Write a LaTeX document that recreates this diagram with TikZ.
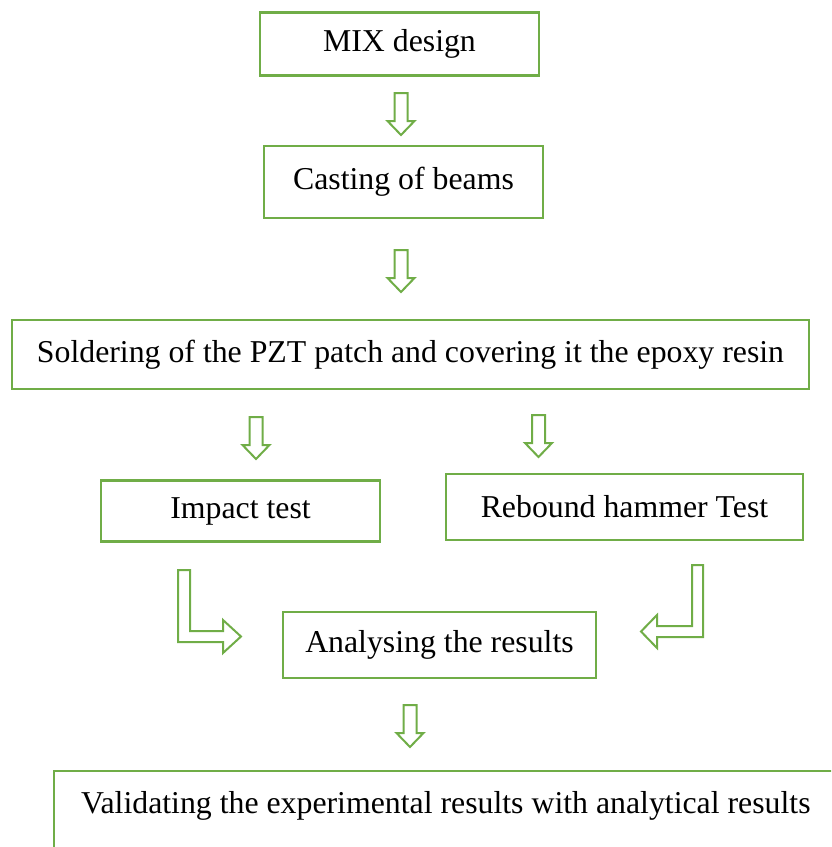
\documentclass[tikz,border=0pt]{standalone}
\usepackage{fontspec}
\setmainfont{Liberation Serif}
\definecolor{boxgreen}{RGB}{112,173,71}

\tikzstyle{stepbox}=[rectangle, draw=boxgreen, line width=2.2pt, inner sep=0pt, font=\fontsize{31.8}{38}\selectfont]
\tikzstyle{hollow}=[draw=boxgreen, line width=2pt, fill=white, line join=miter]

% outline arrow pointing down, given centre x and top y
\newcommand{\hollowdown}[2]{%
  \draw[hollow] (#1-6.5,#2) -- (#1+6.5,#2) -- (#1+6.5,#2+28) -- (#1+13.5,#2+28)
    -- (#1,#2+42) -- (#1-13.5,#2+28) -- (#1-6.5,#2+28) -- cycle;}

\begin{document}
\begin{tikzpicture}[x=1pt, y=-1pt]
\clip (0,0) rectangle (831,847);
\node[stepbox, minimum width=279pt, minimum height=63pt] (mix)     at (399.5,44) {MIX design};
\node[stepbox, minimum width=279pt, minimum height=72pt] (cast)    at (403.5,182)  {Casting of beams};
\node[stepbox, minimum width=797pt, minimum height=69pt] (solder)  at (410.5,354.5) {Soldering of the PZT patch and covering it the epoxy resin};
\node[stepbox, minimum width=279pt, minimum height=61pt] (impact)  at (240.5,511) {Impact test};
\node[stepbox, minimum width=357pt, minimum height=66pt] (rebound) at (624.5,507)  {Rebound hammer Test};
\node[stepbox, minimum width=313pt, minimum height=66pt] (analyse) at (439.5,645)  {Analysing the results};
\node[stepbox, anchor=north west, inner xsep=27pt, inner ysep=10pt,
      text height=32pt, text depth=150pt] (valid) at (53,770) {Validating the experimental results with analytical results};
% straight arrows
\hollowdown{401}{93}
\hollowdown{401}{250}
\hollowdown{256}{417}
\hollowdown{538.5}{415}
\hollowdown{410}{705}
% bent arrows into the analysis box
\draw[hollow] (178,570) -- (190,570) -- (190,631) -- (223,631) -- (223,620) -- (241,636.5)
  -- (223,653) -- (223,642) -- (178,642) -- cycle;
\draw[hollow] (703,565) -- (692,565) -- (692,626) -- (657,626) -- (657,615) -- (641,631.5)
  -- (657,648) -- (657,637) -- (703,637) -- cycle;
\end{tikzpicture}
\end{document}
